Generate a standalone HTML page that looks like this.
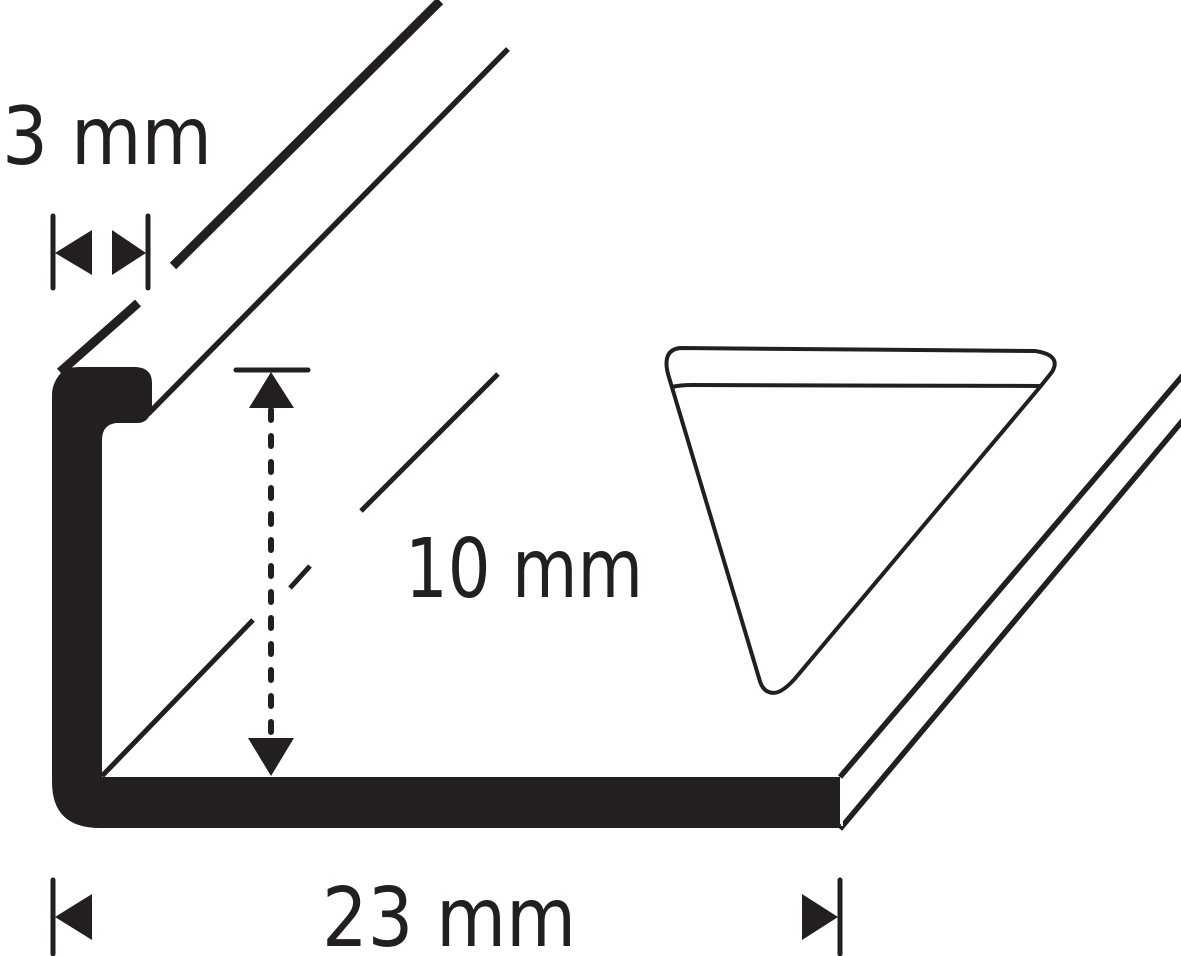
<!DOCTYPE html>
<html><head><style>
html,body{margin:0;padding:0;background:#fff;}
svg{display:block;}
text{font-family:"DejaVu Sans","Liberation Sans",sans-serif;fill:#231f20;}
</style></head>
<body>
<svg width="1181" height="956" viewBox="0 0 1181 956" xmlns="http://www.w3.org/2000/svg">
<g stroke="#231f20" fill="none" stroke-linecap="butt">
  <!-- outer chamfer top line -->
  <line x1="60" y1="372" x2="138" y2="303" stroke-width="9"/>
  <line x1="173" y1="266" x2="440" y2="1" stroke-width="9"/>
  <!-- second top line -->
  <line x1="148" y1="414" x2="508" y2="49" stroke-width="5.5"/>
  <!-- inner fold line (broken) -->
  <line x1="102" y1="776" x2="253" y2="620" stroke-width="5"/>
  <line x1="290" y1="588" x2="310" y2="566" stroke-width="5"/>
  <line x1="361" y1="511" x2="498" y2="374" stroke-width="5"/>
  <!-- right lines -->
  <line x1="840" y1="777" x2="1184" y2="374" stroke-width="5.5"/>
  <line x1="840" y1="829" x2="1184" y2="419" stroke-width="5.5"/>
  <!-- triangle -->
  <path d="M680 348 L1035 351 Q1062 355 1052 372 L1040 387 L798 675 Q780 697 769 692 Q762 690 759 678 L668 374 Q662 350 680 348 Z" stroke-width="4"/>
  <path d="M672 387 Q680 385 692 385 L1040 386" stroke-width="4"/>
</g>
<!-- black profile -->
<path fill="#231f20" d="M52 395 Q52 380 66 368 L78 367 L136 367 Q152 368 152 383 L152 410 Q148 423 138 423 L116 423 Q102 425 102 440 L102 777 L840 777 L840 828 L100 828 Q52 828 52 782 Z"/>
<line x1="842" y1="780" x2="842" y2="826" stroke="#fff" stroke-width="2"/>
<!-- 10mm dimension -->
<g fill="#231f20" stroke="#231f20">
  <line x1="236" y1="370" x2="308" y2="370" stroke-width="5" stroke-linecap="round"/>
  <polygon points="249,408 294,408 271,372" stroke="none"/>
  <line x1="271" y1="410" x2="271" y2="738" stroke-width="6" stroke-dasharray="10 16" stroke-linecap="round"/>
  <polygon points="248,738 294,738 271,776" stroke="none"/>
  <!-- 3mm -->
  <line x1="53" y1="216" x2="53" y2="288" stroke-width="5" stroke-linecap="round"/>
  <line x1="148" y1="216" x2="148" y2="288" stroke-width="5" stroke-linecap="round"/>
  <polygon points="55,253 92,230 92,275" stroke="none"/>
  <polygon points="146,253 112,230 112,275" stroke="none"/>
  <!-- 23mm -->
  <line x1="53" y1="880" x2="53" y2="954" stroke-width="5" stroke-linecap="round"/>
  <line x1="840" y1="880" x2="840" y2="954" stroke-width="5" stroke-linecap="round"/>
  <polygon points="55,917 92,894 92,940" stroke="none"/>
  <polygon points="838,917 802,894 802,940" stroke="none"/>
</g>
<text x="2" y="164" font-size="80" textLength="210" lengthAdjust="spacingAndGlyphs">3 mm</text>
<text x="405" y="597" font-size="82" textLength="238" lengthAdjust="spacingAndGlyphs">10 mm</text>
<text x="322" y="946" font-size="82" textLength="254" lengthAdjust="spacingAndGlyphs">23 mm</text>
</svg>
</body></html>
